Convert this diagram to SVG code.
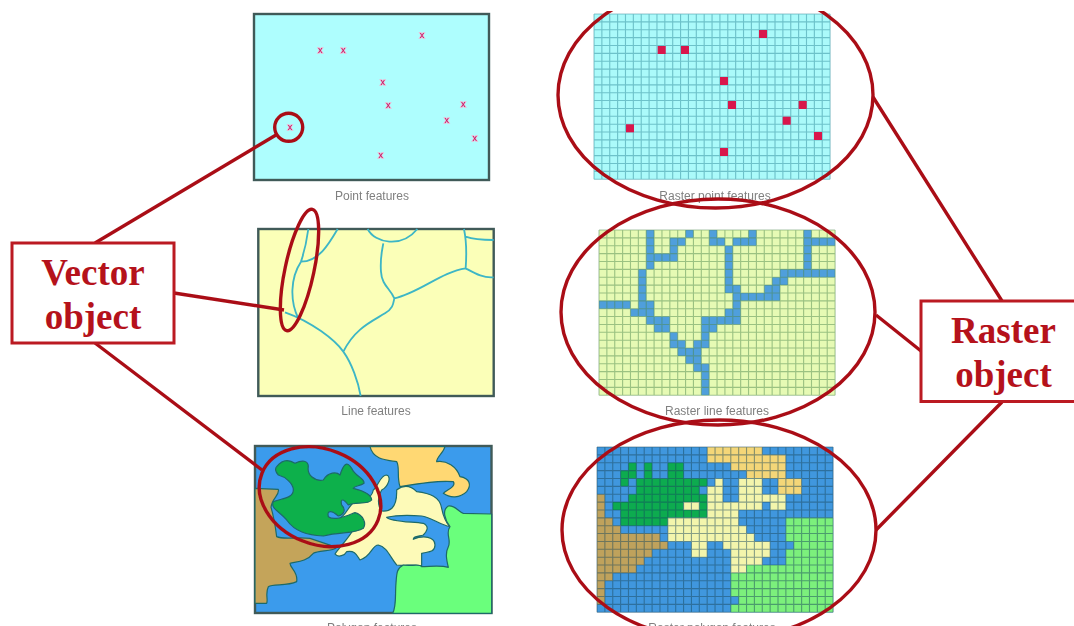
<svg xmlns="http://www.w3.org/2000/svg" xmlns:xlink="http://www.w3.org/1999/xlink" width="1074" height="626" viewBox="0 0 1074 626">
<style>
.cap{font-family:"Liberation Sans",Arial,sans-serif;font-size:12px;fill:#808080;text-anchor:middle}
.lbl{font-family:"Liberation Serif","Times New Roman",serif;font-size:37px;font-weight:700;fill:#b5121b;text-anchor:middle}
.frame{stroke:#3f5a58;stroke-width:2.400}
.red{fill:none;stroke:#aa1018;stroke-width:3.400}
.box{fill:#fff;stroke:#bb1a22;stroke-width:3}
.grid{fill:none;stroke-width:.14;stroke-opacity:.5}
.vl{fill:none;stroke:#3db6c6;stroke-width:5.500}
.poly{stroke:#1f6a68;stroke-width:3.600;stroke-linejoin:round}
.x{font-family:"Liberation Sans",Arial,sans-serif;font-size:9px;fill:#b80f5c;stroke:#f0b4d0;stroke-width:1.500;paint-order:stroke;text-anchor:middle}
</style>
<defs>
<filter id="soft" x="-2%" y="-2%" width="104%" height="104%"><feGaussianBlur stdDeviation="0.7"/></filter>
<filter id="soft2" x="-5%" y="-5%" width="110%" height="110%"><feGaussianBlur stdDeviation="0.35"/></filter>
<clipPath id="topclip"><rect x="0" y="11" width="1074" height="615"/></clipPath>
<path id="gl" d="M0 0V21M1 0V21M2 0V21M3 0V21M4 0V21M5 0V21M6 0V21M7 0V21M8 0V21M9 0V21M10 0V21M11 0V21M12 0V21M13 0V21M14 0V21M15 0V21M16 0V21M17 0V21M18 0V21M19 0V21M20 0V21M21 0V21M22 0V21M23 0V21M24 0V21M25 0V21M26 0V21M27 0V21M28 0V21M29 0V21M30 0V21M0 0H30M0 1H30M0 2H30M0 3H30M0 4H30M0 5H30M0 6H30M0 7H30M0 8H30M0 9H30M0 10H30M0 11H30M0 12H30M0 13H30M0 14H30M0 15H30M0 16H30M0 17H30M0 18H30M0 19H30M0 20H30M0 21H30"/>
</defs>
<rect width="1074" height="626" fill="#fff"/>

<g id="vector-point">
<g filter="url(#soft)">
<rect class="frame" x="254" y="14" width="235" height="166" fill="#aefefe"/>
<text class="x" x="320.3" y="53">x</text><text class="x" x="343.3" y="53">x</text><text class="x" x="422" y="37.700">x</text><text class="x" x="382.7" y="84.700">x</text><text class="x" x="388.3" y="108">x</text><text class="x" x="463.3" y="106.700">x</text><text class="x" x="446.7" y="122.700">x</text><text class="x" x="474.7" y="141.300">x</text><text class="x" x="290" y="130.300">x</text><text class="x" x="380.7" y="158.300">x</text>
</g>
<text class="cap" x="372" y="200" filter="url(#soft2)">Point features</text>
</g>

<g id="vector-line">
<g filter="url(#soft)">
<rect class="frame" x="258.300" y="229" width="235.400" height="167" fill="#fbffb8"/>
<g transform="translate(245 215) scale(.3333)">
<path class="vl" d="M120 292C200 320 270 375 295 410C320 445 340 500 347 543M295 410C330 340 380 320 420 295C445 280 445 265 448 250C435 220 410 210 408 170C405 130 412 100 415 85M368 42C390 85 470 100 517 42M448 250C520 235 590 170 662 160C690 175 715 190 746 187M662 160C665 120 665 80 657 42M662 65C690 75 720 75 746 75M160 310C135 260 135 190 168 140C178 110 185 80 190 42M168 140C220 140 250 90 278 42"/>
</g>
</g>
<text class="cap" x="376" y="415" filter="url(#soft2)">Line features</text>
</g>

<g id="vector-polygon">
<g filter="url(#soft)">
<rect class="frame" x="255" y="446" width="236.500" height="167" fill="#3a9bec"/>
<g transform="translate(240 430) scale(.3333)">
<path class="poly" fill="#ffd873" d="M390 50L615 50C610 70 590 80 590 95C620 90 650 110 660 140C690 145 695 165 680 185C660 205 630 205 610 190C620 180 650 170 640 155C600 150 540 160 480 170C470 140 480 110 470 95C440 90 400 90 390 50Z"/>
<path class="poly" fill="#fdfab8" d="M285 372C300 350 330 320 345 290L290 270C320 260 325 225 345 215C375 210 395 205 400 180C415 170 420 135 440 135C455 140 445 170 425 180C415 195 410 225 425 243C445 245 472 240 470 180C490 165 510 165 530 185C570 190 600 200 605 235C610 260 620 280 630 290C600 285 570 260 545 258C510 255 470 255 440 262C450 275 510 275 550 280C570 290 560 305 550 315C530 320 520 320 520 328C550 315 585 320 585 345C585 370 560 365 545 370L545 408C520 400 490 410 470 405C450 380 440 350 415 345C395 345 395 380 360 390C350 375 345 360 320 365C315 375 295 385 285 372Z"/>
<path class="poly" fill="#c4a45a" d="M45 175L115 178C120 195 95 205 93 232C100 255 105 280 110 320C130 330 170 320 210 325C240 335 270 345 290 352C280 365 235 360 220 370C200 395 170 395 150 400C150 415 175 425 170 455C140 470 100 460 85 470C75 490 85 510 80 520L45 520Z"/>
<path class="poly" fill="#6bff7c" d="M458 550C470 530 465 490 468 460C470 430 470 415 490 405C510 410 540 400 545 410C570 410 600 405 625 412C620 390 615 370 625 350C635 330 615 310 630 290C615 270 605 240 625 228C645 225 655 245 670 250L755 252L755 550Z"/>
<path class="poly" fill="#0bb04c" d="M110 110C130 85 150 90 165 100C185 90 205 90 205 110C200 135 225 155 250 150C265 125 290 125 300 135C310 105 320 90 335 115C345 140 375 145 372 160C360 170 345 165 340 175C360 180 395 190 395 210C385 225 345 215 325 225C310 205 300 205 305 225C320 240 310 255 295 258C275 240 260 240 265 260C285 275 325 255 345 248C370 255 380 280 370 295C345 312 305 305 250 318C200 315 165 305 140 270C120 245 90 235 100 215C125 205 160 205 160 180C160 160 135 140 115 135C105 125 105 115 110 110Z"/>
</g>
</g>
<text class="cap" x="372" y="632" filter="url(#soft2)">Polygon features</text>
</g>

<g id="raster-point">
<g filter="url(#soft)">
<g transform="translate(594 14) scale(7.87)">
<rect width="30" height="21" fill="#abfafa"/>
<use href="#gl" class="grid" stroke="#2f8a9a"/>
</g>
<g fill="#d9124c">
<rect x="657.700" y="46" width="8" height="8"/><rect x="681" y="46" width="8" height="8"/><rect x="759" y="30" width="8" height="8"/><rect x="720" y="77" width="8" height="8"/><rect x="728" y="101" width="8" height="8"/><rect x="798.700" y="101" width="8" height="8"/><rect x="782.700" y="116.700" width="8" height="8"/><rect x="814" y="132" width="8" height="8"/><rect x="626" y="124.300" width="8" height="8"/><rect x="720" y="148" width="8" height="8"/>
</g>
</g>
<text class="cap" x="715" y="200" filter="url(#soft2)">Raster point features</text>
</g>

<g id="raster-line">
<g filter="url(#soft)">
<g transform="translate(599 230) scale(7.87)">
<rect width="30" height="21" fill="#e6fab4"/>
<path fill="#4f9fdc" d="M6 0h1v5h-1zM11 0h1v1h-1zM14 0h1v2h-1zM19 0h1v2h-1zM26 0h1v6h-1zM9 1h2v1h-2zM15 1h1v1h-1zM17 1h2v1h-2zM27 1h3v1h-3zM9 2h1v2h-1zM16 2h1v6h-1zM7 3h2v1h-2zM23 5h3v1h-3zM27 5h3v1h-3zM5 5h1v5h-1zM22 6h2v1h-2zM21 7h2v1h-2zM17 7h1v4h-1zM18 8h5v1h-5zM0 9h4v1h-4zM6 9h1v2h-1zM4 10h2v1h-2zM16 10h1v2h-1zM7 11h2v2h-2zM6 11h1v1h-1zM13 11h3v1h-3zM17 11h1v1h-1zM13 12h2v1h-2zM9 13h1v2h-1zM13 13h1v2h-1zM10 14h1v2h-1zM12 14h1v4h-1zM11 15h1v2h-1zM13 17h1v4h-1z"/>
<use href="#gl" class="grid" stroke="#4f8a50"/>
</g>
</g>
<text class="cap" x="717" y="415" filter="url(#soft2)">Raster line features</text>
</g>

<g id="raster-polygon">
<g filter="url(#soft)">
<g transform="translate(597 447) scale(7.87)">
<rect width="30" height="21" fill="#3f97de"/>
<path fill="#f4d678" d="M14 0h7v1h-7zM14 1h10v1h-10zM17 2h7v1h-7zM19 3h5v1h-5zM23 4h3v2h-3z"/>
<path fill="#0bab50" d="M4 2h1v1h-1zM6 2h1v2h-1zM9 2h2v2h-2zM3 3h2v1h-2zM3 4h1v1h-1zM5 4h9v1h-9zM5 5h8v1h-8zM4 6h10v1h-10zM2 7h9v1h-9zM13 7h1v1h-1zM3 8h11v1h-11zM3 9h6v1h-6z"/>
<path fill="#f3f5ac" d="M15 4h1v1h-1zM18 4h3v2h-3zM14 5h2v2h-2zM18 6h6v1h-6zM11 7h2v1h-2zM14 7h7v1h-7zM22 7h2v1h-2zM14 8h4v1h-4zM9 9h9v1h-9zM9 10h10v1h-10zM9 11h11v1h-11zM12 12h2v2h-2zM16 12h6v1h-6zM17 13h5v1h-5zM17 14h4v1h-4zM17 15h2v1h-2z"/>
<path fill="#bfa25c" d="M0 6h1v3h-1zM0 9h2v1h-2zM0 10h3v1h-3zM0 11h8v1h-8zM0 12h9v1h-9zM0 13h7v1h-7zM0 14h6v1h-6zM0 15h5v1h-5zM0 16h2v1h-2zM0 17h1v3h-1z"/>
<path fill="#7cf07c" d="M24 9h6v3h-6zM25 12h5v1h-5zM24 13h6v2h-6zM19 15h11v1h-11zM17 16h13v3h-13zM18 19h12v1h-12zM17 20h13v1h-13z"/>
<use href="#gl" class="grid" stroke="#1c4a5e"/>
</g>
</g>
<text class="cap" x="712" y="632" filter="url(#soft2)">Raster polygon features</text>
</g>

<g id="connectors" filter="url(#soft2)">
<path class="red" d="M95 243L276 135M174 293L284 310M95 343L262 470M873 97L1002 301M876 315L921 351M876 530L1002 402"/>
<circle class="red" cx="288.700" cy="127.300" r="14"/>
<ellipse class="red" cx="299.500" cy="270" rx="14.500" ry="62" transform="rotate(12 299.500 270)"/>
<ellipse class="red" cx="320" cy="496.700" rx="62.600" ry="47.500" transform="rotate(22 320 496.700)"/>
<ellipse class="red" clip-path="url(#topclip)" cx="715.500" cy="95" rx="157.500" ry="113"/>
<ellipse class="red" cx="718" cy="312" rx="157" ry="113"/>
<ellipse class="red" cx="719" cy="530" rx="157" ry="110"/>
</g>

<g id="vector-object">
<rect class="box" x="12" y="243" width="162" height="100"/>
<text class="lbl" x="93" y="285">Vector</text>
<text class="lbl" x="93" y="329">object</text>
</g>

<g id="raster-object">
<rect class="box" x="921" y="301" width="160" height="100.500"/>
<text class="lbl" x="1003.500" y="343">Raster</text>
<text class="lbl" x="1003.500" y="387">object</text>
</g>
</svg>
